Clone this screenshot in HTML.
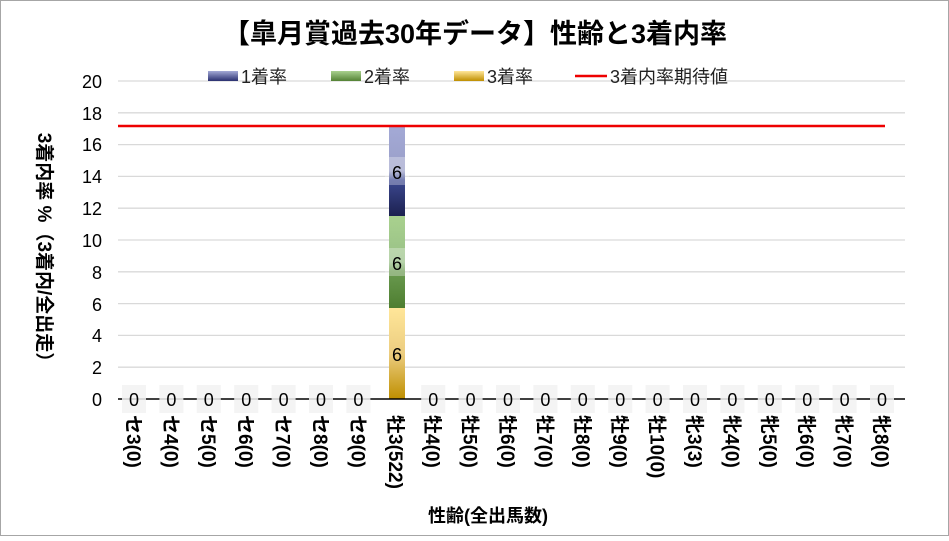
<!DOCTYPE html>
<html><head><meta charset="utf-8"><style>
body{margin:0;background:#fff}
svg text{font-family:"Liberation Sans","Noto Sans CJK JP",sans-serif}
</style></head><body>
<svg width="949" height="536" xmlns="http://www.w3.org/2000/svg">
<defs>
<linearGradient id="g1" x1="0" y1="0" x2="0" y2="1"><stop offset="0" stop-color="#a3a9d6"/><stop offset="0.5" stop-color="#9a9fc8"/><stop offset="0.6" stop-color="#3c4890"/><stop offset="1" stop-color="#1c2150"/></linearGradient>
<linearGradient id="g2" x1="0" y1="0" x2="0" y2="1"><stop offset="0" stop-color="#a9d18e"/><stop offset="0.5" stop-color="#98c086"/><stop offset="0.6" stop-color="#6a9a50"/><stop offset="1" stop-color="#4e7e30"/></linearGradient>
<linearGradient id="g3" x1="0" y1="0" x2="0" y2="1"><stop offset="0" stop-color="#ffe699"/><stop offset="0.5" stop-color="#eccd80"/><stop offset="1" stop-color="#bf8f00"/></linearGradient>
<linearGradient id="l1" x1="0" y1="0" x2="0" y2="1"><stop offset="0" stop-color="#a3a9d6"/><stop offset="1" stop-color="#2a3070"/></linearGradient>
<linearGradient id="l2" x1="0" y1="0" x2="0" y2="1"><stop offset="0" stop-color="#a9d18e"/><stop offset="1" stop-color="#548235"/></linearGradient>
<linearGradient id="l3" x1="0" y1="0" x2="0" y2="1"><stop offset="0" stop-color="#ffe699"/><stop offset="1" stop-color="#bf8f00"/></linearGradient>
</defs>
<rect x="0.5" y="0.5" width="948" height="535" fill="#fff" stroke="#a6a6a6"/>
<text x="475" y="43" font-size="27" font-weight="bold" text-anchor="middle">【皐月賞過去30年データ】性齢と3着内率</text>
<g stroke="#d9d9d9" stroke-width="1.3">
<line x1="118" x2="905" y1="81" y2="81"/><line x1="118" x2="905" y1="112.8" y2="112.8"/><line x1="118" x2="905" y1="144.6" y2="144.6"/><line x1="118" x2="905" y1="176.4" y2="176.4"/><line x1="118" x2="905" y1="208.2" y2="208.2"/><line x1="118" x2="905" y1="240" y2="240"/><line x1="118" x2="905" y1="271.8" y2="271.8"/><line x1="118" x2="905" y1="303.6" y2="303.6"/><line x1="118" x2="905" y1="335.4" y2="335.4"/><line x1="118" x2="905" y1="367.2" y2="367.2"/>
</g>
<g font-size="18" text-anchor="end" fill="#000">
<text x="102" y="88">20</text><text x="102" y="120">18</text><text x="102" y="151">16</text><text x="102" y="183">14</text><text x="102" y="215">12</text><text x="102" y="247">10</text><text x="102" y="279">8</text><text x="102" y="311">6</text><text x="102" y="342">4</text><text x="102" y="374">2</text><text x="102" y="406">0</text>
</g>
<g font-size="18" fill="#222">
<rect x="208" y="71" width="30" height="10" fill="url(#l1)"/><text x="241" y="83">1着率</text>
<rect x="331" y="71" width="30" height="10" fill="url(#l2)"/><text x="364" y="83">2着率</text>
<rect x="454" y="71" width="30" height="10" fill="url(#l3)"/><text x="487" y="83">3着率</text>
<line x1="575" x2="607" y1="76" y2="76" stroke="#e00" stroke-width="2.5"/><text x="610" y="83">3着内率期待値</text>
</g>
<rect x="389" y="126" width="16" height="90" fill="url(#g1)"/>
<rect x="389" y="216" width="16" height="92" fill="url(#g2)"/>
<rect x="389" y="308" width="16" height="91" fill="url(#g3)"/>
<rect x="385" y="157" width="24" height="28" fill="#fff" fill-opacity="0.3"/>
<rect x="385" y="248" width="24" height="28" fill="#fff" fill-opacity="0.3"/>
<g font-size="18" text-anchor="middle"><text x="397" y="179">6</text><text x="397" y="270">6</text><text x="397" y="361">6</text></g>
<line x1="118" x2="905" y1="399" y2="399" stroke="#000" stroke-width="1.5"/>
<line x1="118" x2="885" y1="126" y2="126" stroke="#e00" stroke-width="2.5"/>
<g id="zeros" font-size="18" text-anchor="middle"></g>
<text x="488" y="522" font-size="18" font-weight="bold" text-anchor="middle">性齢(全出馬数)</text>
<text transform="translate(38,252) rotate(90)" font-size="19" font-weight="bold" text-anchor="middle">3着内率 %（3着内/全出走）</text>
<g id="xl" font-size="19" font-weight="bold"></g>
</svg>
<script>
var labs=["セ3(0)","セ4(0)","セ5(0)","セ6(0)","セ7(0)","セ8(0)","セ9(0)","牡3(522)","牡4(0)","牡5(0)","牡6(0)","牡7(0)","牡8(0)","牡9(0)","牡10(0)","牝3(3)","牝4(0)","牝5(0)","牝6(0)","牝7(0)","牝8(0)"];
var ns="http://www.w3.org/2000/svg",z=document.getElementById("zeros"),xl=document.getElementById("xl");
labs.forEach(function(l,i){var cx=134+i*37.4;
if(i!=7){var r=document.createElementNS(ns,"rect");r.setAttribute("x",cx-12);r.setAttribute("y",385);r.setAttribute("width",24);r.setAttribute("height",28);r.setAttribute("fill","#f2f2f2");r.setAttribute("fill-opacity","0.85");z.appendChild(r);
var t=document.createElementNS(ns,"text");t.setAttribute("x",cx);t.setAttribute("y",406);t.textContent="0";z.appendChild(t);}
var t2=document.createElementNS(ns,"text");t2.setAttribute("transform","translate("+(cx-7)+",415) rotate(90)");t2.textContent=l;xl.appendChild(t2);});
</script>
</body></html>
